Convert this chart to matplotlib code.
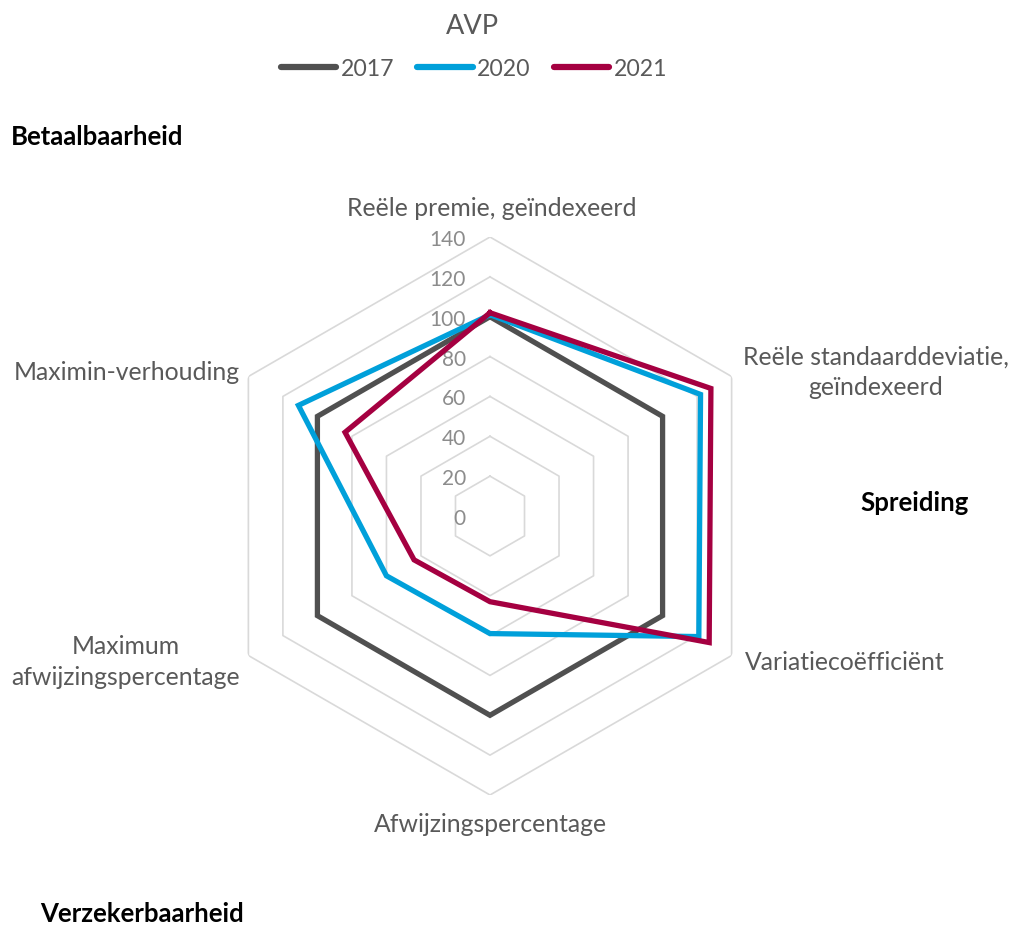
import numpy as np
import matplotlib
matplotlib.use("Agg")
import matplotlib.pyplot as plt

plt.rcParams['font.family'] = ['Lato', 'DejaVu Sans']

categories = ["Reële premie, geïndexeerd",
              "Reële standaarddeviatie,\ngeïndexeerd",
              "Variatiecoëfficiënt",
              "Afwijzingspercentage",
              "Maximum\nafwijzingspercentage",
              "Maximin-verhouding"]
series_names = ["2017", "2020", "2021"]
values_2017 = [100, 100, 100, 100, 100, 100]
values_2020 = [101, 122, 121, 59, 60, 111]
values_2021 = [102, 128, 127, 43, 44, 84]
tick_values = [0, 20, 40, 60, 80, 100, 120, 140]
title = "AVP"
group_labels = ["Betaalbaarheid", "Spreiding", "Verzekerbaarheid"]

colors = ["#505050", "#00A0DA", "#A50041"]
grid_color = "#D9D9D9"
text_color = "#595959"
tick_color = "#8C8C8C"

W, H = 1016, 925
fig = plt.figure(figsize=(W / 100, H / 100), dpi=100)
cx, cy, R = 490, 516, 279
ax = fig.add_axes([(cx - R) / W, (H - cy - R) / H, 2 * R / W, 2 * R / H], projection='polar')
ax.set_theta_offset(np.pi / 2)
ax.set_theta_direction(-1)
ax.set_ylim(0, 140)
ax.grid(False)
ax.spines['polar'].set_visible(False)
ax.set_xticks([])
ax.set_yticks([])
ax.patch.set_alpha(0)

n = len(categories)
angles = np.linspace(0, 2 * np.pi, n, endpoint=False)
ang_c = np.append(angles, angles[0])

for r in tick_values[1:]:
    ax.plot(ang_c, [r] * (n + 1), color=grid_color, lw=1.2, zorder=1)

for r in tick_values:
    ax.annotate(str(r), xy=(0, r), xytext=(-24, -3), textcoords='offset pixels',
                ha='right', va='center', color=tick_color, fontsize=15, zorder=2)

handles = []
for vals, name, col in zip([values_2017, values_2020, values_2021], series_names, colors):
    v = np.append(vals, vals[0])
    h, = ax.plot(ang_c, v, color=col, lw=3.8, solid_joinstyle='miter', zorder=3, label=name)
    handles.append(h)

# Title and legend
fig.text(472 / W, 1 - 27 / H, title, ha='center', va='center', fontsize=19.5, color=text_color)
leg = fig.legend(handles=handles, labels=series_names, loc='center', bbox_to_anchor=(474 / W, 1 - 69 / H),
                 ncol=3, frameon=False, fontsize=16.6, handlelength=2.4, handletextpad=0.2,
                 columnspacing=1.0, labelcolor=text_color)
for lh in leg.get_lines():
    lh.set_solid_capstyle('round')
    lh.set_linewidth(4.5)

# Category labels
lab_fs = 17.8
fig.text(492 / W, 1 - 208 / H, categories[0], ha='center', va='center', fontsize=lab_fs, color=text_color)
fig.text(876 / W, 1 - 372 / H, categories[1], ha='center', va='center', fontsize=lab_fs, color=text_color,
         linespacing=1.4)
fig.text(745 / W, 1 - 662 / H, categories[2], ha='left', va='center', fontsize=lab_fs, color=text_color)
fig.text(490 / W, 1 - 825 / H, categories[3], ha='center', va='center', fontsize=lab_fs, color=text_color)
fig.text(126 / W, 1 - 662 / H, categories[4], ha='center', va='center', fontsize=lab_fs, color=text_color,
         linespacing=1.4)
fig.text(240 / W, 1 - 372 / H, categories[5], ha='right', va='center', fontsize=lab_fs, color=text_color)

# Group labels
gfs = 18.5
fig.text(97 / W, 1 - 137 / H, group_labels[0], ha='center', va='center', fontsize=gfs, fontweight='bold', color='black')
fig.text(915 / W, 1 - 503 / H, group_labels[1], ha='center', va='center', fontsize=gfs, fontweight='bold', color='black')
fig.text(142 / W, 1 - 914 / H, group_labels[2], ha='center', va='center', fontsize=gfs, fontweight='bold', color='black')

fig.savefig("out.png", dpi=100, facecolor='white')
